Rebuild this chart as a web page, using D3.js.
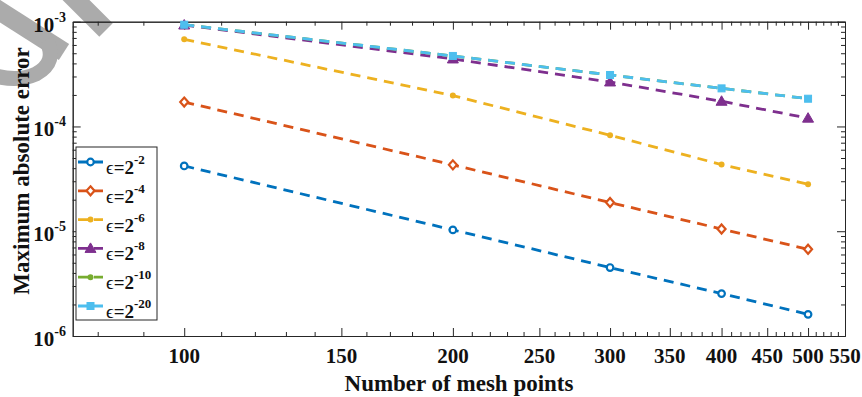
<!DOCTYPE html>
<html lang="en">
<head>
<meta charset="utf-8">
<script src="https://d3js.org/d3.v7.min.js"></script>
<style>
  body { margin: 0; background: #fff; }
  svg { display: block; }
  text { font-family: "Liberation Serif", "Times New Roman", "DejaVu Serif", serif; font-weight: bold; fill: #111; }
</style>
</head>
<body>
<svg id="chart" width="862" height="397"></svg>
<script>
// mesh sizes and max abs error for each epsilon
const meshPoints = [100, 200, 300, 400, 500];
const seriesNames = ["-2", "-4", "-6", "-8", "-10", "-20"];
const errEps2  = [4.20e-5, 1.03e-5, 4.50e-6, 2.54e-6, 1.61e-6];
const errEps4  = [1.71e-4, 4.30e-5, 1.88e-5, 1.05e-5, 6.73e-6];
const errEps6  = [6.79e-4, 1.97e-4, 8.24e-5, 4.33e-5, 2.81e-5];
const errEps8  = [9.30e-4, 4.41e-4, 2.66e-4, 1.74e-4, 1.20e-4];
const errEps10 = [9.36e-4, 4.71e-4, 3.10e-4, 2.31e-4, 1.84e-4];
const errEps20 = [9.36e-4, 4.71e-4, 3.10e-4, 2.31e-4, 1.84e-4];
const xTickLabels = [100, 150, 200, 250, 300, 350, 400, 450, 500, 550];
const yTickExps = [-6, -5, -4, -3];

const colors = ["#0072BD", "#D95319", "#EDB120", "#7E2F8E", "#77AC30", "#4DBEEE"];
const markers = ["circle", "diamond", "dot", "triangle", "dot", "square"];
const allSeries = [errEps2, errEps4, errEps6, errEps8, errEps10, errEps20];

const svg = d3.select("#chart");
const pLeft = 72.7, pRight = 845, pTop = 21.7, pBottom = 336;

const x = d3.scaleLog().domain([75, 550]).range([pLeft, pRight]);
const y = d3.scaleLog().domain([1e-6, 1e-3]).range([pBottom, pTop]);

// faint watermark strokes in the top-left corner
const wm = svg.append("g").attr("fill", "none").attr("stroke", "#ababab").attr("stroke-width", 19);
wm.append("path").attr("d", "M68,-8 L106,30");
wm.append("path").attr("d", "M-8,6 L64,52");
wm.append("path").attr("d", "M46,40 Q58,62 36,74 Q18,82 -4,76").attr("stroke-width", 15);

// minor tick values
const xMinor = d3.range(80, 550, 10).filter(v => v % 50 !== 0);
const yMinor = [];
[-6, -5, -4].forEach(e => { for (let k = 2; k <= 9; k++) yMinor.push(k * Math.pow(10, e)); });
const yMajor = yTickExps.map(e => Math.pow(10, e));

function tickAxis(axisFn, scale, vals, size, tr) {
  const g = svg.append("g").attr("transform", tr)
    .call(axisFn(scale).tickValues(vals).tickSizeInner(-size).tickSizeOuter(0).tickFormat(""));
  g.selectAll("line").attr("stroke", "#262626");
  g.select(".domain").attr("stroke", "#262626");
  return g;
}
tickAxis(d3.axisBottom, x, xTickLabels, 8, `translate(0,${pBottom})`);
tickAxis(d3.axisBottom, x, xMinor, 4, `translate(0,${pBottom})`);
tickAxis(d3.axisTop, x, xTickLabels, 8, `translate(0,${pTop})`);
tickAxis(d3.axisTop, x, xMinor, 4, `translate(0,${pTop})`);
tickAxis(d3.axisLeft, y, yMajor, 8, `translate(${pLeft},0)`);
tickAxis(d3.axisLeft, y, yMinor, 4, `translate(${pLeft},0)`);
tickAxis(d3.axisRight, y, yMajor, 8, `translate(${pRight},0)`);
tickAxis(d3.axisRight, y, yMinor, 4, `translate(${pRight},0)`);

// x tick labels
svg.append("g").selectAll("text").data(xTickLabels).enter().append("text")
  .attr("x", d => x(d)).attr("y", 363).attr("text-anchor", "middle")
  .attr("font-size", 21).text(d => d);

// y tick labels 10^e
const yl = svg.append("g").selectAll("text").data(yTickExps).enter().append("text")
  .attr("x", 66).attr("y", d => y(Math.pow(10, d)) + 10).attr("text-anchor", "end")
  .attr("font-size", 21);
yl.append("tspan").text("10");
yl.append("tspan").attr("dy", -10).attr("font-size", 14).text(d => d);

// axis titles
svg.append("text").attr("x", 459).attr("y", 391).attr("text-anchor", "middle")
  .attr("font-size", 23).text("Number of mesh points");
svg.append("text").attr("transform", "translate(29,171) rotate(-90)").attr("text-anchor", "middle")
  .attr("font-size", 23).text("Maximum absolute error");

// draw a marker shape at (cx,cy)
function drawMarker(g, type, cx, cy, col) {
  if (type === "circle") {
    g.append("circle").attr("cx", cx).attr("cy", cy).attr("r", 3.3)
      .attr("fill", "#fff").attr("stroke", col).attr("stroke-width", 2.2);
  } else if (type === "diamond") {
    g.append("path").attr("d", `M${cx},${cy-4.5}L${cx+4},${cy}L${cx},${cy+4.5}L${cx-4},${cy}Z`)
      .attr("fill", "#fff").attr("stroke", col).attr("stroke-width", 2.2);
  } else if (type === "dot") {
    g.append("circle").attr("cx", cx).attr("cy", cy).attr("r", 3).attr("fill", col);
  } else if (type === "triangle") {
    g.append("path").attr("d", `M${cx},${cy-5.5}L${cx+5.5},${cy+4}L${cx-5.5},${cy+4}Z`)
      .attr("fill", col).attr("stroke", col).attr("stroke-width", 1);
  } else if (type === "square") {
    g.append("rect").attr("x", cx-3.5).attr("y", cy-3.5).attr("width", 7).attr("height", 7)
      .attr("fill", col).attr("stroke", col).attr("stroke-width", 1);
  }
}

const line = d3.line().x((d, i) => x(meshPoints[i])).y(d => y(d));

allSeries.forEach((vals, s) => {
  const g = svg.append("g");
  g.append("path").datum(vals).attr("d", line)
    .attr("fill", "none").attr("stroke", colors[s]).attr("stroke-width", 2.8)
    .attr("stroke-dasharray", "10,7");
  vals.forEach((v, i) => drawMarker(g, markers[s], x(meshPoints[i]), y(v), colors[s]));
});

// legend
const leg = svg.append("g");
leg.append("rect").attr("x", 76).attr("y", 147).attr("width", 81).attr("height", 173)
  .attr("fill", "#fff").attr("stroke", "#262626").attr("stroke-width", 1);
seriesNames.forEach((n, s) => {
  const ry = 162 + s * 28.8;
  const g = leg.append("g");
  g.append("line").attr("x1", 78).attr("x2", 103).attr("y1", ry).attr("y2", ry)
    .attr("stroke", colors[s]).attr("stroke-width", 2.8).attr("stroke-dasharray", "12,4");
  drawMarker(g, markers[s], 90.5, ry, colors[s]);
  const t = g.append("text").attr("x", 106).attr("y", ry + 12).attr("font-size", 19);
  t.append("tspan").attr("font-weight", "normal").text("\u03F5");
  t.append("tspan").text("=2");
  t.append("tspan").attr("dy", -10).attr("font-size", 13).text(n);
});
</script>
</body>
</html>
